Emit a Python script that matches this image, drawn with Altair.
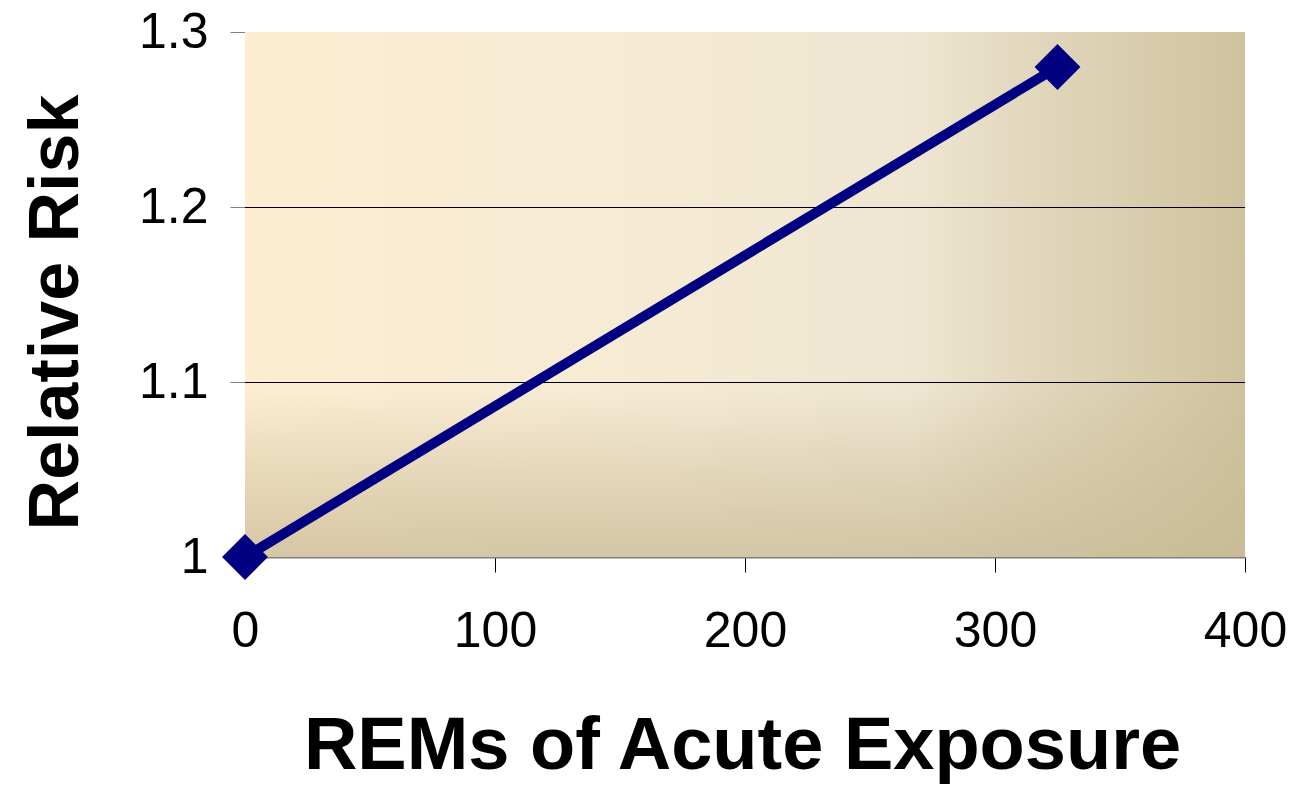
import altair as alt
import pandas as pd

# Data
rems = [0, 325]
relative_risk = [1.0, 1.28]
x_ticks = [0, 100, 200, 300, 400]
y_ticks = [1.0, 1.1, 1.2, 1.3]
grid_values = [1.1, 1.2]

df = pd.DataFrame({"rem": rems, "rr": relative_risk})
grid_df = pd.DataFrame({"rr": grid_values})
one = pd.DataFrame({"k": [0]})

W, H = 1000, 525
FONT = "Liberation Sans"

xscale = alt.Scale(domain=[0, 400], nice=False)
yscale = alt.Scale(domain=[1.0, 1.3], nice=False, zero=False)

xaxis = alt.Axis(
    values=x_ticks, title="REMs of Acute Exposure", grid=False, labelFlush=False,
    labelFont=FONT, labelFontSize=50, labelColor="black", labelPadding=34,
    tickSize=15, tickColor="black", domainColor="#808080", domainWidth=2,
    titleFont=FONT, titleFontSize=74, titleFontWeight="bold", titleColor="black",
    titleX=W / 2 - 3, titleY=211, titleBaseline="alphabetic",
)
yaxis = alt.Axis(
    values=y_ticks, format="~g", title="Relative Risk", grid=False, labelFlush=False,
    labelFont=FONT, labelFontSize=50, labelColor="black", labelPadding=22,
    tickSize=15, tickColor="#808080", domainColor="black", domainWidth=1,
    titleFont=FONT, titleFontSize=70, titleFontWeight="bold", titleColor="black",
    titleX=-168, titleY=280, titleBaseline="alphabetic", titleAngle=270,
)

horiz = alt.LinearGradient(
    gradient="linear", x1=0, x2=1, y1=0, y2=0,
    stops=[
        alt.GradientStop(color="#FDEDD2", offset=0),
        alt.GradientStop(color="#F4EAD4", offset=0.45),
        alt.GradientStop(color="#EEE6D1", offset=0.67),
        alt.GradientStop(color="#E2D8BE", offset=0.78),
        alt.GradientStop(color="#CFC29F", offset=1),
    ],
)
vert = alt.LinearGradient(
    gradient="linear", x1=0, x2=0, y1=0, y2=1,
    stops=[
        alt.GradientStop(color="rgba(201,185,149,0)", offset=0),
        alt.GradientStop(color="rgba(201,185,149,0)", offset=0.68),
        alt.GradientStop(color="rgba(201,185,149,0.4)", offset=0.84),
        alt.GradientStop(color="rgba(201,185,149,0.75)", offset=1),
    ],
)

bg1 = alt.Chart(one).mark_rect(fill=horiz).encode(
    x=alt.value(0), x2=alt.value(W), y=alt.value(0), y2=alt.value(H)
)
bg2 = alt.Chart(one).mark_rect(fill=vert).encode(
    x=alt.value(0), x2=alt.value(W), y=alt.value(0), y2=alt.value(H)
)

grid = alt.Chart(grid_df).mark_rule(color="black", strokeWidth=1, yOffset=0.5).encode(
    y=alt.Y("rr:Q", scale=yscale, axis=yaxis)
)

line = alt.Chart(df).mark_line(color="#000080", strokeWidth=10, clip=False).encode(
    x=alt.X("rem:Q", scale=xscale, axis=xaxis),
    y=alt.Y("rr:Q", scale=yscale, axis=yaxis),
)

points = alt.Chart(df).mark_point(
    shape="diamond", size=2100, filled=True, color="#000080", opacity=1, clip=False
).encode(
    x=alt.X("rem:Q", scale=xscale, axis=xaxis),
    y=alt.Y("rr:Q", scale=yscale, axis=yaxis),
)

chart = alt.layer(bg1, bg2, grid, line, points).properties(
    width=W, height=H,
    autosize=alt.AutoSizeParams(type="none"),
    padding={"left": 237, "top": 24, "right": 44, "bottom": 227},
).configure_view(stroke=None)

chart.save("out.html", embed_options={"renderer": "svg", "actions": False})
